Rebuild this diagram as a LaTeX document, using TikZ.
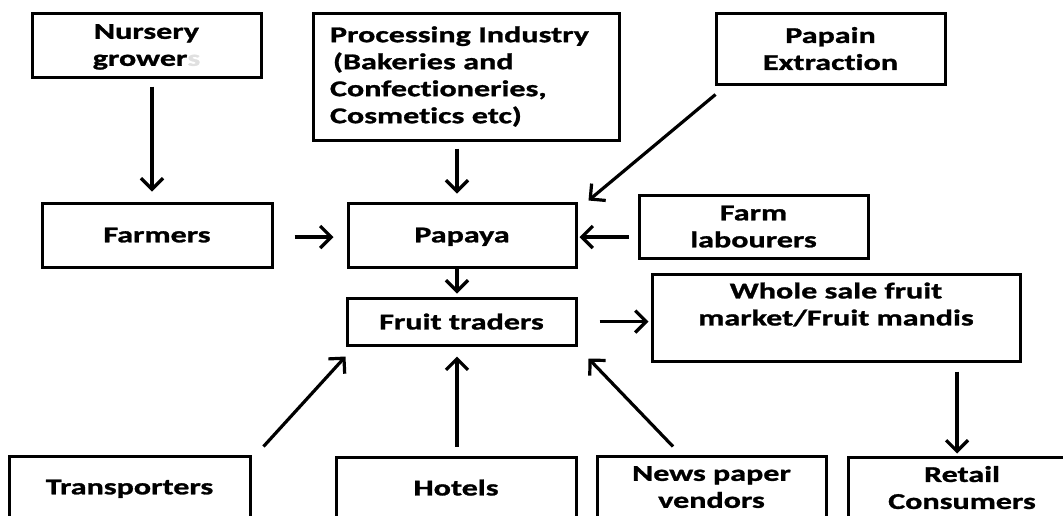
\documentclass[tikz,border=0pt]{standalone}
\usepackage{fontspec}
\setmainfont{Carlito}[FakeStretch=1.42,Ligatures=NoCommon,BoldFeatures={FakeBold=1.2}]
\usetikzlibrary{arrows.meta}

\begin{document}
\begin{tikzpicture}[x=1pt,y=-1pt,>={Straight Barb[length=11pt,width=22pt]},
box/.style = {draw, line width=3pt, inner sep=0pt, align=center, text depth=0pt, font=\fontsize{22.6}{27}\selectfont\bfseries},
flow/.style = {->, line width=3.2pt},]
\useasboundingbox (0,0) rectangle (1063,515);
\clip (0,0) rectangle (1063,515);

\node (nursery) at (146.5,45)[box,minimum width=229pt,minimum height=64pt] {Nursery\\grower{\color{black!12}s}};
\node (industry) at (466,76.5)[box,text depth=,align=left,text width=272pt,inner xsep=17pt,minimum height=127pt] {Processing Industry\\\hspace*{3pt}(Bakeries and\\Confectioneries,\\Cosmetics etc)};
\node (papain) at (830.5,48.5)[box,minimum width=229pt,minimum height=71pt] {Papain\\Extraction};
\node (farmers) at (157,235)[box,minimum width=230pt,minimum height=64pt] {Farmers};
\node (papaya) at (462,235)[box,minimum width=228pt,minimum height=64pt] {Papaya};
\node (labour) at (753.5,226.5)[box,minimum width=229pt,minimum height=63pt] {Farm\\labourers};
\node (traders) at (461.5,321.5)[box,minimum width=229pt,minimum height=47pt] {Fruit traders};
\node (market) at (836,317.5)[box,minimum width=368pt,minimum height=87pt] {Whole sale fruit\\market/Fruit mandis\\\strut};
\node (transport) at (129.5,487)[box,minimum width=241pt,minimum height=62pt] {Transporters};
\node (hotels) at (456,487.5)[box,minimum width=240pt,minimum height=61pt] {Hotels};
\node (vendors) at (711.5,487)[box,minimum width=229pt,minimum height=62pt] {News paper\\vendors};
\node (retail) at (962,487.5)[box,minimum width=228pt,minimum height=61pt] {Retail\\Consumers};

\draw[flow] ([xshift=5.5pt,yshift=-8pt]nursery.south) -- ([xshift=-5pt,yshift=10pt]farmers.north);
\draw[flow] ([xshift=-9pt,yshift=-7pt]industry.south) -- ([xshift=-5pt,yshift=8pt]papaya.north);
\draw[flow] ([shift={(1,9)}]papain.south west) -- ([shift={(11,-1)}]papaya.north east);
\draw[flow] ([xshift=21pt,yshift=-2pt]farmers.east) -- ([xshift=-13pt,yshift=-2pt]papaya.west);
\draw[flow] ([xshift=-9pt,yshift=-2pt]labour.west |- papaya.east) -- ([xshift=2pt,yshift=-2pt]papaya.east);
\draw[flow] ([xshift=-5pt]papaya.south) -- ([xshift=-4.5pt,yshift=3pt]traders.north);
\draw[flow] ([xshift=22pt]traders.east) -- ([xshift=-2pt]traders.east -| market.west);
\draw[flow] ([xshift=-5pt,yshift=-9pt]retail.north |- market.south) -- ([xshift=-5pt,yshift=2pt]retail.north);
\draw[flow] ([shift={(12,-8)}]transport.north east) -- ([shift={(0,10)}]traders.south west);
\draw[flow] ([xshift=1pt,yshift=9pt]hotels.north) -- ([xshift=-4.5pt,yshift=-10pt]traders.south);
\draw[flow] ([shift={(-38.5,-8)}]vendors.north) -- ([shift={(11,12)}]traders.south east);
\end{tikzpicture}
\end{document}
